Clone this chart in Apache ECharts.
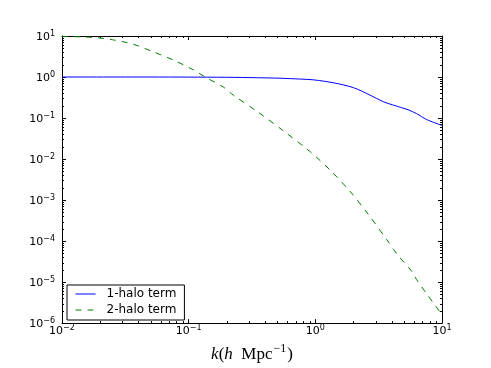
<!DOCTYPE html>
<html>
<head>
<meta charset="utf-8">
<script src="https://cdn.jsdelivr.net/npm/echarts@6/dist/echarts.min.js"></script>
<style>
  html, body { margin: 0; padding: 0; background: #fff; }
  #chart { width: 491px; height: 368px; }
</style>
</head>
<body>
<div id="chart"></div>
<script>
// 1-halo term
const oneHaloK = [0.01, 0.05, 0.1, 0.2, 0.35, 0.526, 0.76, 0.97, 1.4, 2.0, 2.7, 3.44, 4.27, 5.4, 6.3, 7.55, 10];
const oneHaloP = [1.0, 1.0, 0.995, 0.985, 0.96, 0.935, 0.89, 0.853, 0.72, 0.55, 0.363, 0.25, 0.2, 0.159, 0.128, 0.092, 0.066];
// 2-halo term
const twoHaloK = [0.01, 0.015, 0.02, 0.025, 0.0314, 0.0377, 0.0526, 0.0757, 0.1086, 0.139, 0.187, 0.225, 0.355, 0.558, 0.853, 1.0, 1.3, 1.87, 2.62, 3.65, 4.51, 5.75, 6.31, 7.5, 10];
const twoHaloP = [9.7, 9.5, 8.9, 8.1, 7.08, 6.1, 4.1, 2.6, 1.5, 0.95, 0.575, 0.363, 0.138, 0.049, 0.0178, 0.0117, 0.0055, 0.00166, 4.47e-4, 1.1e-4, 4.4e-5, 1.86e-5, 1.15e-5, 5.4e-6, 1.6e-6];

const xMin = 0.01, xMax = 10;
const yMin = 1e-6, yMax = 10;

// minor ticks 2..9 of every decade
const minorX = [];
for (let d = -2; d < 1; d++) for (let m = 2; m < 10; m++) minorX.push(m * Math.pow(10, d));
const minorY = [];
for (let d = -6; d < 1; d++) for (let m = 2; m < 10; m++) minorY.push(m * Math.pow(10, d));

const FONT = 'DejaVu Sans';

// 10^n as rich text
function powLabel (v) {
  const e = Math.round(Math.log10(v));
  return '{b|10}{s|' + (e < 0 ? '\u2212' + (-e) : e) + '}';
}
const powRich = {
  b: {fontFamily: FONT, fontSize: 11, lineHeight: 13, padding: [5, 0, 0, 0], verticalAlign: 'bottom', color: '#000'},
  s: {fontFamily: FONT, fontSize: 8, lineHeight: 9, verticalAlign: 'top', color: '#000'}
};

const axisLine = {show: true, lineStyle: {color: '#000', width: 1}};
const majorTick = {show: true, inside: true, length: 4, lineStyle: {color: '#000', width: 1}};

function tickSeries (values, isX) {
  return {
    type: 'custom',
    silent: true,
    z: 5,
    xAxisIndex: 0,
    yAxisIndex: 0,
    data: values.map(v => isX ? [v, yMin] : [xMin, v]),
    renderItem (params, api) {
      const style = {stroke: '#000', lineWidth: 1};
      if (isX) {
        const v = api.value(0);
        const b = api.coord([v, yMin]);
        const t = api.coord([v, yMax]);
        const x = Math.round(b[0]) + 0.5;
        return {type: 'group', children: [
          {type: 'line', shape: {x1: x, y1: b[1], x2: x, y2: b[1] - 2}, style},
          {type: 'line', shape: {x1: x, y1: t[1], x2: x, y2: t[1] + 2}, style}
        ]};
      }
      const v = api.value(1);
      const l = api.coord([xMin, v]);
      const r = api.coord([xMax, v]);
      const y = Math.round(l[1]) + 0.5;
      return {type: 'group', children: [
        {type: 'line', shape: {x1: l[0], y1: y, x2: l[0] + 2, y2: y}, style},
        {type: 'line', shape: {x1: r[0], y1: y, x2: r[0] - 2, y2: y}, style}
      ]};
    }
  };
}

const chart = echarts.init(document.getElementById('chart'), null, {renderer: 'canvas'});
chart.setOption({
  animation: false,
  backgroundColor: '#fff',
  grid: {left: 62, right: 49, top: 36, bottom: 37, containLabel: false},
  legend: {
    data: ['1-halo term', '2-halo term'],
    orient: 'vertical',
    left: 67,
    top: 285,
    padding: [3, 8, 4, 8],
    itemGap: 4,
    itemWidth: 20,
    itemHeight: 14,
    borderColor: '#000',
    borderWidth: 1,
    borderRadius: 0,
    backgroundColor: '#fff',
    itemStyle: {opacity: 0},
    lineStyle: {width: 1},
    textStyle: {fontFamily: FONT, fontSize: 12, color: '#000', padding: [0, 0, 0, 6]}
  },
  xAxis: [
    {
      type: 'log', logBase: 10, min: xMin, max: xMax,
      axisLine, axisTick: majorTick, splitLine: {show: false},
      axisLabel: {formatter: powLabel, rich: powRich, margin: 1},
      name: '{i|k}{r|(}{i|h}{r|  Mpc}{s|\u22121}{r|)}',
      nameLocation: 'middle',
      nameGap: 18,
      nameTextStyle: {
        rich: {
          i: {fontFamily: 'Liberation Serif', fontStyle: 'italic', fontSize: 17, color: '#000', lineHeight: 20, verticalAlign: 'bottom', padding: [4, 0, 0, 0]},
          r: {fontFamily: 'Liberation Serif', fontSize: 17, color: '#000', lineHeight: 20, verticalAlign: 'bottom', padding: [4, 0, 0, 0]},
          s: {fontFamily: 'Liberation Serif', fontSize: 12, color: '#000', lineHeight: 13, verticalAlign: 'top', padding: [0, 1, 0, 1]}
        }
      }
    },
    {
      type: 'log', logBase: 10, min: xMin, max: xMax, position: 'top',
      axisLine, axisTick: majorTick, splitLine: {show: false}, axisLabel: {show: false}
    }
  ],
  yAxis: [
    {
      type: 'log', logBase: 10, min: yMin, max: yMax,
      axisLine, axisTick: majorTick, splitLine: {show: false},
      axisLabel: {formatter: powLabel, rich: powRich, margin: 7}
    },
    {
      type: 'log', logBase: 10, min: yMin, max: yMax, position: 'right',
      axisLine, axisTick: majorTick, splitLine: {show: false}, axisLabel: {show: false}
    }
  ],
  series: [
    {
      name: '1-halo term',
      type: 'line',
      data: oneHaloK.map((k, i) => [k, oneHaloP[i]]),
      showSymbol: false,
      symbol: 'circle',
      smooth: 0.3,
      lineStyle: {color: '#0000ff', width: 1},
      itemStyle: {color: '#0000ff'}
    },
    {
      name: '2-halo term',
      type: 'line',
      data: twoHaloK.map((k, i) => [k, twoHaloP[i]]),
      showSymbol: false,
      symbol: 'circle',
      smooth: 0.3,
      lineStyle: {color: '#008000', width: 1, type: [6, 6]},
      itemStyle: {color: '#008000'}
    },
    tickSeries(minorX, true),
    tickSeries(minorY, false)
  ]
});
</script>
</body>
</html>
